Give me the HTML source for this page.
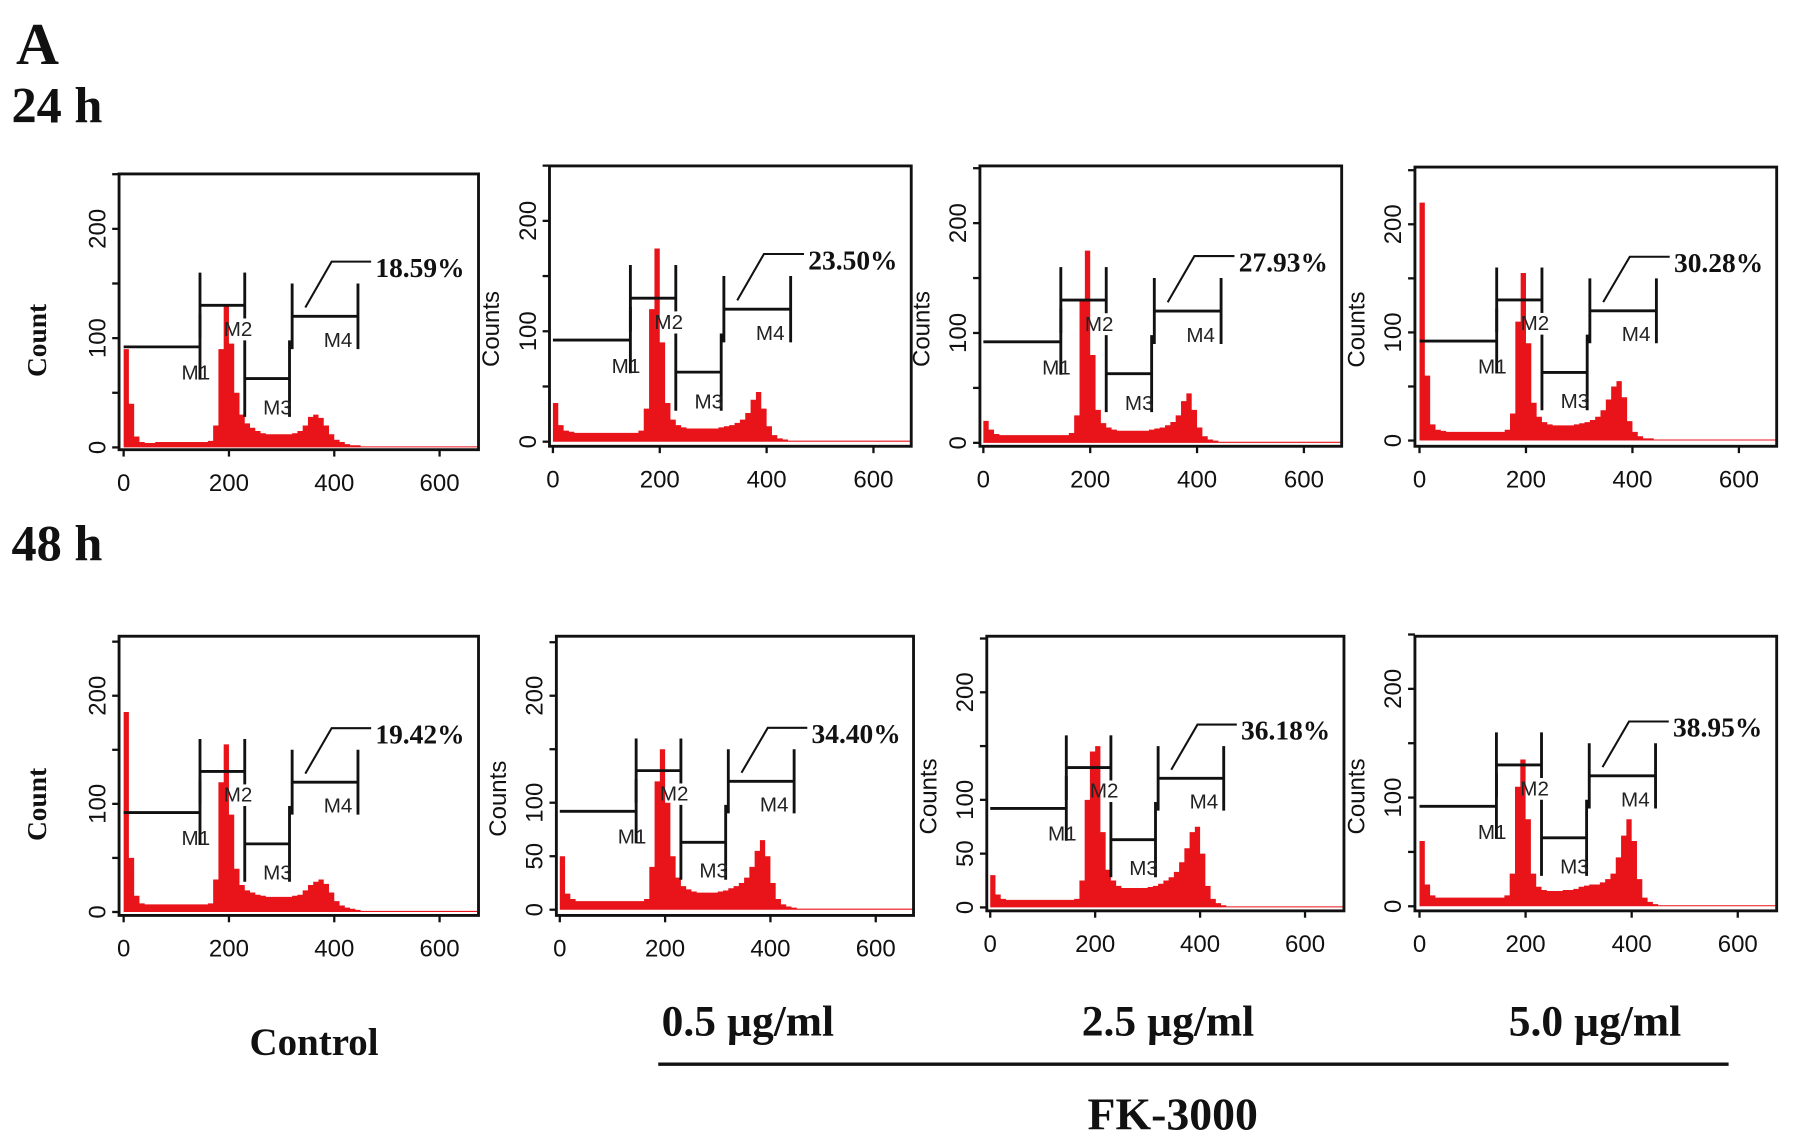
<!DOCTYPE html>
<html><head><meta charset="utf-8"><style>
html,body{margin:0;padding:0;background:#fff;}
svg{display:block;}
.tk{font-family:"Liberation Sans",sans-serif;font-size:21px;fill:#111;}
.ml{font-family:"Liberation Sans",sans-serif;font-size:18px;fill:#222;}
.pc{font-family:"Liberation Serif",serif;font-weight:bold;font-size:24px;fill:#111;}
.bs{font-family:"Liberation Serif",serif;font-weight:bold;fill:#111;}
</style></head><body>
<svg id="fig" width="1795" height="1142" viewBox="0 0 1568 998" preserveAspectRatio="none">
<text class="bs" x="14" y="56" font-size="52">A</text>
<text class="bs" x="10" y="107" font-size="44">24 h</text>
<text class="bs" x="10" y="490" font-size="44">48 h</text>
<text class="bs" x="218" y="922" font-size="34">Control</text>
<text class="bs" x="578" y="905" font-size="38">0.5 µg/ml</text>
<text class="bs" x="945" y="905" font-size="38">2.5 µg/ml</text>
<text class="bs" x="1318" y="905" font-size="38">5.0 µg/ml</text>
<line x1="575" y1="930" x2="1510" y2="930" stroke="#111" stroke-width="3"/>
<text class="bs" x="950" y="987" font-size="40">FK-3000</text>
</svg>
<script>
// histogram counts, bins of width 10 starting at 0
const h24c=[90,40,10,5,4,4,5,5,5,5,5,5,5,5,5,5,6,20,90,130,95,50,30,22,18,15,13,12,12,12,12,12,13,15,20,28,30,27,20,12,7,5,3,2,2,1,1,1,1,1];
const h24a=[35,15,10,9,8,8,8,8,8,8,8,8,8,8,8,8,10,30,120,175,90,35,20,15,13,12,12,12,12,12,12,13,14,15,17,20,26,38,45,30,14,6,3,2,1,1,1,1,1,1];
const h24b=[20,12,8,7,7,7,7,7,7,7,7,7,7,7,7,7,9,25,130,175,80,30,18,14,12,11,11,11,11,11,11,12,13,14,16,19,25,38,45,30,14,6,3,2,1,1,1,1,1,1];
const h24d=[220,60,15,10,9,8,8,8,8,8,8,8,8,8,8,8,10,25,110,155,90,35,22,17,15,14,14,14,14,15,16,17,19,22,28,38,50,55,40,18,8,4,2,2,1,1,1,1,1,1];
const h48c=[185,50,15,8,7,7,7,7,7,7,7,7,7,7,7,7,8,30,120,155,90,40,25,20,18,16,15,14,14,14,14,14,15,16,20,25,28,30,26,18,10,6,4,3,2,1,1,1,1,1];
const h48a=[50,15,10,8,8,8,8,8,8,8,8,8,8,8,8,8,10,40,120,150,100,50,30,22,19,17,16,16,16,16,17,18,20,22,25,30,40,55,65,50,25,10,5,3,2,1,1,1,1,1];
const h48b=[30,12,8,7,7,7,7,7,7,7,7,7,7,7,7,7,8,25,100,145,150,70,35,25,20,18,18,18,18,18,19,20,22,25,28,33,42,55,70,75,50,20,8,4,2,1,1,1,1,1];
const h48d=[60,20,10,8,8,8,8,8,8,8,8,8,8,8,8,8,10,30,110,135,80,30,18,15,14,14,14,15,15,16,18,19,20,20,22,25,30,45,65,80,60,25,8,4,2,1,1,1,1,1];
const percents=["18.59%","23.50%","27.93%","30.28%","19.42%","34.40%","36.18%","38.95%"];
const xTicks=[0,200,400,600];
const yTicksA=[0,100,200];
const yTicksB=[0,50,100,200];
const NS="http://www.w3.org/2000/svg";
const svg=document.getElementById('fig');
function mk(tag,attrs,parent){const e=document.createElementNS(NS,tag);for(const k in attrs)e.setAttribute(k,attrs[k]);(parent||svg).appendChild(e);return e;}
const panels=[
 {d:h24c,b:[104,152,418,393],x0:108,x6:384,y0:391,y2:200,yl:"Count",yt:yTicksA},
 {d:h24a,b:[480,145,796,390],x0:483,x6:763,y0:386,y2:193,yl:"Counts",yt:yTicksA},
 {d:h24b,b:[856,145,1172,390],x0:859,x6:1139,y0:387,y2:195,yl:"Counts",yt:yTicksA},
 {d:h24d,b:[1236,146,1552,390],x0:1240,x6:1519,y0:385,y2:196,yl:"Counts",yt:yTicksA},
 {d:h48c,b:[104,556,418,800],x0:108,x6:384,y0:797,y2:608,yl:"Count",yt:yTicksA},
 {d:h48a,b:[486,556,798,800],x0:489,x6:765,y0:795,y2:608,yl:"Counts",yt:yTicksB},
 {d:h48b,b:[862,556,1174,796],x0:865,x6:1140,y0:793,y2:605,yl:"Counts",yt:yTicksB},
 {d:h48d,b:[1236,556,1552,796],x0:1240,x6:1518,y0:792,y2:602,yl:"Counts",yt:yTicksA}
];
panels.forEach((p,i)=>{
 const g=mk('g',{});
 
 
 const X=v=>p.x0+(p.x6-p.x0)*v/600, Y=v=>p.y0-(p.y0-p.y2)*v/200;
 const [L,T,R,B]=p.b;
 let pts=`M${X(0)},${Y(0)}`;
 const n=68;
 for(let k=0;k<n;k++){const v=k<p.d.length?p.d[k]:1;pts+=` L${X(k*10)},${Y(v)} L${Math.min(X(k*10+10),R)},${Y(v)}`;}
 pts+=` L${R},${Y(0)} Z`;
 const hist=mk('path',{d:pts,fill:'#e8141a'},g);
 
 
 const box=mk('rect',{x:L,y:T,width:R-L,height:B-T,fill:'none',stroke:'#111','stroke-width':2.5},g);
 
 
 for(let v=0;v<=250;v+=50){mk('line',{x1:L-6,x2:L,y1:Y(v),y2:Y(v),stroke:'#111','stroke-width':2},g);}
 p.yt.forEach(v=>{const t=mk('text',{class:'tk','text-anchor':'middle',transform:`translate(${L-12},${Y(v)}) rotate(-90)`},g);t.textContent=v;
  
  });
 xTicks.forEach(v=>{mk('line',{x1:X(v),x2:X(v),y1:B,y2:B+6,stroke:'#111','stroke-width':2},g);
  const t=mk('text',{class:'tk','text-anchor':'middle',x:X(v),y:B+36},g);t.textContent=v;
  
  });
 const yt=mk('text',{'text-anchor':'middle',transform:`translate(${L-44},${(T+B)/2+20}) rotate(-90)`},g);
 yt.textContent=p.yl;
 if(p.yl==="Count"){yt.setAttribute('class','bs');yt.setAttribute('font-size','24');yt.setAttribute('transform',`translate(${L-64},${(T+B)/2+25}) rotate(-90)`);}
 else{yt.setAttribute('class','tk');yt.setAttribute('font-size','22');}
 
 
 const st={stroke:'#111','stroke-width':2.5};
 const M=[[0,145,92,'M1',110,62],[145,230,130,'M2',190,102],[230,315,63,'M3',265,30],[320,445,120,'M4',380,92]];
 M.forEach(m=>{
  mk('line',Object.assign({x1:X(m[0]),x2:X(m[1]),y1:Y(m[2]),y2:Y(m[2])},st),g);
  const h=m[3]==='M1'?0:(m[3]==='M3'?35:30);
  if(m[3]!=='M1')mk('line',Object.assign({x1:X(m[0]),x2:X(m[0]),y1:Y(m[2]+h),y2:Y(m[2]-h)},st),g);
  mk('line',Object.assign({x1:X(m[1]),x2:X(m[1]),y1:Y(m[2]+(m[3]==='M1'?30:h)),y2:Y(m[2]-(m[3]==='M1'?30:(m[3]==='M2'?12:h)))},st),g);
  const t=mk('text',{class:'ml',x:X(m[4]),y:Y(m[5])},g);t.textContent=m[3];
  
  
 });
 mk('polyline',{points:`${X(345)},${Y(128)} ${X(395)},${Y(170)} ${X(470)},${Y(170)}`,fill:'none',stroke:'#111','stroke-width':1.8},g);
 const pc=mk('text',{class:'pc',x:X(478),y:Y(156)},g);pc.textContent=percents[i];
 
 
});
</script>
</body></html>
